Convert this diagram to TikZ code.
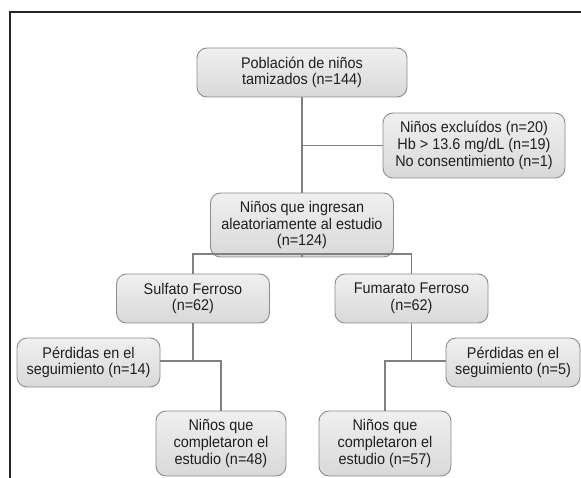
\documentclass[tikz,border=0pt]{standalone}
\usepackage{fontspec}
\setmainfont[FakeStretch=0.93]{Liberation Sans}
\begin{document}
\begin{tikzpicture}[x=1pt,y=-1pt,
  box/.style={draw=black!45, line width=0.9pt, rounded corners=10pt,
    top color=white!94!black, bottom color=black!15, align=center,
    inner sep=0pt, text=black!88,
    font=\fontsize{15.5pt}{16.8pt}\selectfont},
  link/.style={draw=black!50, line width=1.3pt}]
\useasboundingbox (0,0) rectangle (581,478);
\fill[white] (0,0) rectangle (581,478);
\draw[line width=1.4pt, black!85] (10,480) -- (10,12) -- (583,12);

\node[box, minimum width=210pt, minimum height=49pt] (pob) at (302,72.5) {Población de niños\\tamizados (n=144)};
\node[box, minimum width=182pt, minimum height=65pt] (exc) at (474,145.5) {Niños excluídos (n=20)\\Hb > 13.6 mg/dL (n=19)\\No consentimiento (n=1)};
\node[box, minimum width=183pt, minimum height=64pt] (ing) at (302,225) {Niños que ingresan\\aleatoriamente al estudio\\(n=124)};
\node[box, minimum width=153pt, minimum height=49pt] (sul) at (193,298.5) {Sulfato Ferroso\\(n=62)};
\node[box, minimum width=153pt, minimum height=49pt] (fum) at (411.5,298.5) {Fumarato Ferroso\\(n=62)};
\node[box, minimum width=143pt, minimum height=49pt] (per1) at (88.5,362.5) {Pérdidas en el\\seguimiento (n=14)};
\node[box, minimum width=134pt, minimum height=49pt] (per2) at (513,362.5) {Pérdidas en el\\seguimiento (n=5)};
\node[box, minimum width=130pt, minimum height=65pt] (com1) at (221,443.5) {Niños que\\completaron el\\estudio (n=48)};
\node[box, minimum width=132pt, minimum height=65pt] (com2) at (385,443.5) {Niños que\\completaron el\\estudio (n=57)};

\coordinate (j0) at (302,145.5);
\coordinate (j1) at (302,254);
\coordinate (j2) at (193,361);
\coordinate (j3) at (411.5,361);

\draw[link] (pob.south) -- (ing.north);
\draw[link] (j0) -- (exc.west);
\draw[link] (ing.south) -- (j1);
\draw[link] (sul.north) -- (sul.north |- j1) -- (fum.north |- j1) -- (fum.north);
\draw[link] (sul.south) -- (j2);
\draw[link] (per1.east |- j2) -- (com1.north |- j2) -- (com1.north);
\draw[link] (fum.south) -- (j3);
\draw[link] (per2.west |- j3) -- (com2.north |- j3) -- (com2.north);
\end{tikzpicture}
\end{document}
